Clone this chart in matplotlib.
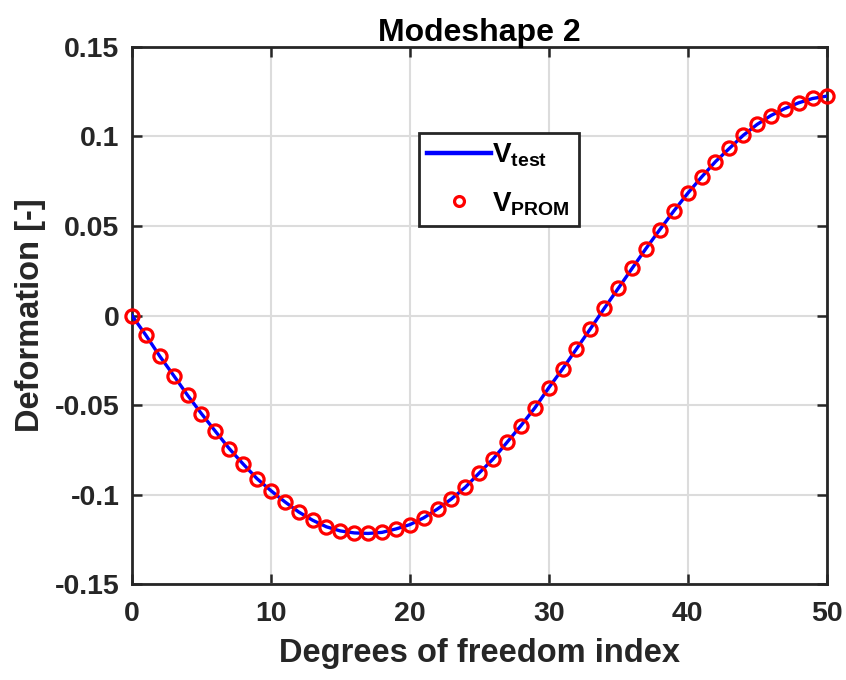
import numpy as np
import matplotlib
matplotlib.use('Agg')
import matplotlib.pyplot as plt

plt.rcParams['font.family'] = ['Liberation Sans', 'DejaVu Sans']
plt.rcParams['font.weight'] = 'bold'
plt.rcParams['mathtext.fontset'] = 'custom'
plt.rcParams['mathtext.rm'] = 'Liberation Sans:bold'
plt.rcParams['mathtext.bf'] = 'Liberation Sans:bold'
plt.rcParams['mathtext.it'] = 'Liberation Sans:bold'

# mode shape 2, one value per degree of freedom
dof = list(range(51))
v_test = [0.0, -0.0110, -0.0227, -0.0335, -0.0445, -0.0548, -0.0646, -0.0743,
          -0.0829, -0.0911, -0.0978, -0.1040, -0.1097, -0.1143, -0.1180,
          -0.1203, -0.1214, -0.1217, -0.1211, -0.1192, -0.1168, -0.1130,
          -0.1080, -0.1024, -0.0959, -0.0879, -0.0801, -0.0708, -0.0615,
          -0.0516, -0.0404, -0.0298, -0.0186, -0.0074, 0.0040, 0.0151,
          0.0263, 0.0374, 0.0480, 0.0583, 0.0682, 0.0773, 0.0859, 0.0933,
          0.1006, 0.1067, 0.1117, 0.1156, 0.1188, 0.1212, 0.1225]
v_prom = list(v_test)

xticks = [0, 10, 20, 30, 40, 50]
yticks = [-0.15, -0.1, -0.05, 0, 0.05, 0.1, 0.15]
ytick_labels = ['-0.15', '-0.1', '-0.05', '0', '0.05', '0.1', '0.15']

fig = plt.figure(figsize=(8.46, 6.8), dpi=100)
ax = fig.add_axes([0.156, 0.141, 0.821, 0.790])

ax.plot(dof, v_test, color='#0000ff', lw=2.4, label=r'$\mathbf{V}_{\mathbf{test}}$', zorder=3)
ax.plot(dof, v_prom, 'o', mfc='none', mec='#ff0000', mew=2.3, ms=9.5,
        label=r'$\mathbf{V}_{\mathbf{PROM}}$', zorder=4, clip_on=False)

ax.set_xlim(0, 50)
ax.set_ylim(-0.15, 0.15)
ax.set_xticks(xticks)
ax.set_yticks(yticks)
ax.set_yticklabels(ytick_labels)
ax.grid(True, color='#dcdcdc', lw=1.5)
ax.set_axisbelow(True)
ax.tick_params(direction='in', length=7, width=1.8, labelsize=20.5, color='#262626',
               labelcolor='#262626', top=True, right=True)
ax.tick_params(axis='y', pad=9)
ax.tick_params(axis='x', pad=12)
for s in ax.spines.values():
    s.set_linewidth(2.0)
    s.set_color('#262626')

ax.set_xlabel('Degrees of freedom index', fontsize=23.5, fontweight='bold',
              color='#262626', labelpad=8)
ax.set_ylabel('Deformation [-]', fontsize=23.5, fontweight='bold',
              color='#262626', labelpad=6)
ax.set_title('Modeshape 2', fontsize=23, fontweight='bold', pad=4)

leg = ax.legend(loc='center', bbox_to_anchor=(0.528, 0.753), fontsize=20,
                frameon=True, fancybox=False, edgecolor='#262626',
                handlelength=2.3, handletextpad=0.05, markerscale=0.75,
                borderpad=0.3, labelspacing=0.75, borderaxespad=0)
leg.get_frame().set_linewidth(2.0)
leg.get_frame().set_alpha(1.0)
leg.get_lines()[0].set_linewidth(3.2)

fig.savefig('out.png', dpi=100)
